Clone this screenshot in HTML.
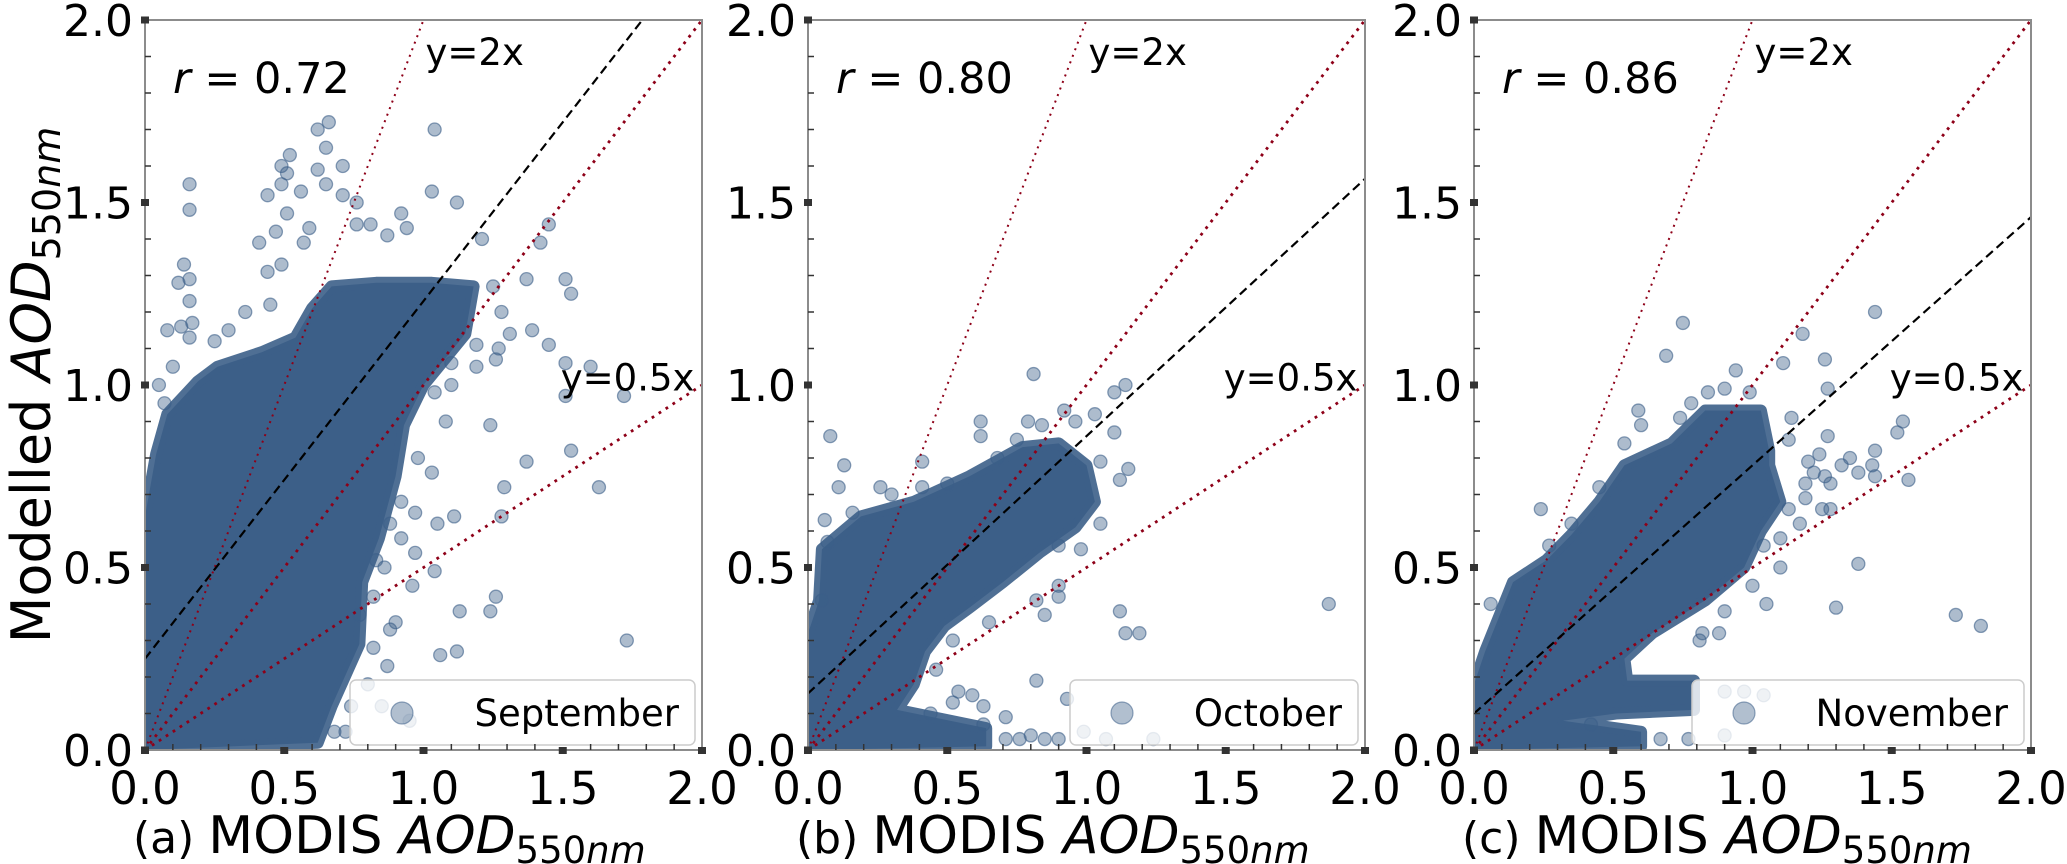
<!DOCTYPE html>
<html><head><meta charset="utf-8"><style>
html,body{margin:0;padding:0;background:#fff}
svg{display:block}
text{font-family:"DejaVu Sans","Liberation Sans",sans-serif;fill:#000}
</style></head><body>
<svg id="chart" width="2067" height="864" viewBox="0 0 2067 864" xmlns="http://www.w3.org/2000/svg"></svg>
<script>
// ---- data (data units) ----
const panelLabels = ["(a)", "(b)", "(c)"];
const monthNames = ["September", "October", "November"];
const rValues = ["0.72", "0.80", "0.86"];
const fitIntercepts = [0.25, 0.155, 0.10];
const fitSlopes = [0.98, 0.705, 0.68];
const tickLabels = ["0.0", "0.5", "1.0", "1.5", "2.0"];
const tickValues = [0, 0.5, 1.0, 1.5, 2.0];
const refSlopes = [1, 2, 0.5];

const denseA = [[0,0],[0.62,0.02],[0.67,0.12],[0.77,0.29],[0.78,0.46],[0.84,0.58],[0.9,0.75],[0.93,0.89],[1.0,1.0],[1.15,1.14],[1.18,1.27],[1.03,1.28],[0.83,1.28],[0.67,1.27],[0.6,1.21],[0.54,1.13],[0.42,1.09],[0.26,1.05],[0.19,1.01],[0.08,0.92],[0.04,0.81],[0,0.64]];
const denseB = [[0.05,0.55],[0.08,0.57],[0.19,0.64],[0.38,0.68],[0.58,0.75],[0.77,0.83],[0.9,0.84],[1.0,0.78],[1.03,0.68],[0.96,0.61],[0.83,0.54],[0.7,0.46],[0.58,0.39],[0.49,0.34],[0.42,0.27],[0.38,0.18],[0.32,0.11],[0.64,0.06],[0.64,0.01],[0,0],[0,0.32],[0.04,0.41]];
const denseC = [[0,0.18],[0.04,0.27],[0.14,0.46],[0.26,0.52],[0.35,0.59],[0.45,0.68],[0.54,0.78],[0.71,0.84],[0.83,0.93],[1.03,0.93],[1.06,0.82],[1.06,0.78],[1.1,0.68],[1.03,0.6],[0.97,0.5],[0.83,0.41],[0.64,0.32],[0.54,0.25],[0.55,0.19],[0.79,0.19],[0.79,0.11],[0.51,0.10],[0.32,0.08],[0.6,0.05],[0.6,0.01],[0,0]];

const pointsA = [[0.62,1.70],[0.66,1.72],[0.65,1.65],[1.04,1.70],[0.16,1.55],[0.16,1.48],[0.52,1.63],[0.49,1.60],[0.71,1.60],[0.62,1.59],[0.51,1.58],[0.49,1.55],[0.65,1.55],[0.44,1.52],[0.56,1.53],[0.71,1.52],[0.76,1.50],[1.03,1.53],[0.92,1.47],[1.12,1.50],[0.51,1.47],[0.59,1.43],[0.81,1.44],[0.76,1.44],[0.47,1.42],[0.41,1.39],[0.57,1.39],[0.87,1.41],[0.94,1.43],[0.14,1.33],[0.12,1.28],[0.16,1.29],[0.16,1.23],[0.08,1.15],[0.13,1.16],[0.17,1.17],[0.16,1.13],[0.44,1.31],[0.49,1.33],[1.45,1.44],[1.42,1.39],[1.21,1.40],[1.37,1.29],[1.51,1.29],[1.53,1.25],[1.25,1.27],[1.28,1.2],[1.39,1.15],[1.31,1.14],[1.45,1.11],[1.27,1.10],[1.19,1.11],[1.26,1.07],[1.51,1.06],[1.6,1.05],[1.19,1.05],[1.10,1.06],[1.51,0.97],[1.72,0.97],[1.24,0.89],[1.04,0.98],[1.53,0.82],[1.37,0.79],[1.29,0.72],[1.63,0.72],[1.28,0.64],[1.11,0.64],[1.03,0.76],[1.26,0.42],[1.24,0.38],[1.13,0.38],[0.9,0.35],[1.06,0.26],[1.12,0.27],[1.73,0.30],[0.96,0.45],[1.04,0.49],[0.97,0.54],[1.05,0.62],[0.97,0.65],[0.82,0.28],[0.87,0.23],[0.77,0.37],[0.85,0.12],[0.95,0.08],[0.72,0.05],[0.82,0.42],[0.86,0.5],[0.92,0.58],[0.88,0.33],[0.8,0.18],[0.74,0.12],[0.68,0.05],[0.92,0.68],[0.98,0.8],[1.08,0.9],[1.1,1.0],[0.88,0.62],[0.83,0.52],[0.3,1.15],[0.36,1.2],[0.25,1.12],[0.45,1.22],[0.05,1.0],[0.1,1.05],[0.07,0.95]];
const pointsB = [[0.81,1.03],[1.10,0.98],[1.14,1.0],[0.08,0.86],[0.62,0.90],[0.62,0.86],[0.79,0.90],[0.84,0.89],[0.92,0.93],[0.96,0.9],[1.03,0.92],[1.10,0.87],[0.75,0.85],[0.13,0.78],[0.41,0.79],[0.11,0.72],[0.26,0.72],[0.41,0.72],[1.15,0.77],[1.12,0.74],[1.05,0.79],[0.06,0.63],[0.16,0.65],[0.07,0.57],[0.05,0.41],[0.9,0.56],[0.9,0.45],[0.82,0.41],[0.9,0.42],[0.85,0.37],[0.65,0.35],[1.12,0.38],[1.14,0.32],[1.19,0.32],[1.87,0.40],[0.82,0.19],[0.52,0.30],[0.46,0.22],[0.54,0.16],[0.59,0.15],[0.52,0.13],[0.63,0.12],[0.44,0.10],[0.71,0.09],[0.63,0.07],[0.71,0.03],[0.8,0.04],[0.9,0.03],[0.99,0.05],[0.93,0.14],[1.07,0.03],[1.24,0.03],[0.76,0.03],[0.85,0.03],[1.05,0.62],[0.98,0.55],[0.3,0.7],[0.5,0.73],[0.68,0.8]];
const pointsC = [[1.44,1.20],[0.75,1.17],[1.18,1.14],[0.69,1.08],[1.11,1.06],[1.26,1.07],[0.94,1.04],[1.27,0.99],[0.99,0.98],[0.90,0.99],[0.84,0.98],[0.78,0.95],[0.59,0.93],[0.6,0.89],[0.74,0.91],[1.14,0.91],[1.54,0.9],[1.52,0.87],[1.27,0.86],[1.13,0.85],[0.54,0.84],[1.24,0.81],[1.44,0.82],[1.35,0.80],[1.20,0.79],[1.43,0.78],[1.32,0.78],[1.38,0.76],[1.44,0.75],[1.56,0.74],[1.26,0.75],[1.22,0.76],[1.28,0.73],[1.19,0.73],[1.19,0.69],[1.25,0.66],[1.28,0.66],[1.13,0.66],[1.17,0.62],[0.24,0.66],[0.27,0.56],[1.38,0.51],[1.04,0.56],[1.1,0.58],[0.06,0.40],[1.05,0.40],[1.30,0.39],[1.73,0.37],[1.82,0.34],[0.88,0.32],[0.81,0.30],[0.82,0.32],[1.04,0.15],[0.9,0.16],[0.97,0.16],[0.42,0.07],[0.67,0.03],[0.77,0.03],[0.9,0.04],[1.1,0.5],[1.0,0.45],[0.9,0.38],[0.35,0.62],[0.45,0.72]];

const denseSets = [denseA, denseB, denseC];
const pointSets = [pointsA, pointsB, pointsC];

// ---- layout ----
const NS = "http://www.w3.org/2000/svg";
const svg = document.getElementById("chart");
const axLefts = [145, 808, 1474];
const axW = 557, axTop = 20, axBottom = 750;
const BLUE = "#3c5f88", RED = "#8e0018";

function mk(tag, attrs, parent) {
  const e = document.createElementNS(NS, tag);
  for (const k in attrs) e.setAttribute(k, attrs[k]);
  (parent || svg).appendChild(e);
  return e;
}

const defs = mk("defs", {});

panelLabels.forEach((lab, p) => {
  const L = axLefts[p];
  const xs = v => L + v / 2 * axW;
  const ys = v => axBottom - v / 2 * (axBottom - axTop);

  const g = mk("g", {});
  
  

  const cp = mk("clipPath", { id: "clip" + p }, defs);
  mk("rect", { x: L, y: axTop, width: axW, height: axBottom - axTop }, cp);
  const plot = mk("g", { "clip-path": "url(#clip" + p + ")" }, g);
  
  

  // dense core
  const dpts = denseSets[p].map(d => xs(d[0]).toFixed(1) + "," + ys(d[1]).toFixed(1)).join(" ");
  const poly = mk("polygon", { points: dpts, fill: BLUE, stroke: BLUE, "stroke-width": 12, "stroke-linejoin": "round", "stroke-opacity": 0.9 }, plot);
  
  

  // individual points
  pointSets[p].forEach(d => {
    const c = mk("circle", { cx: xs(d[0]), cy: ys(d[1]), r: 6.5, fill: BLUE, "fill-opacity": 0.42, stroke: BLUE, "stroke-opacity": 0.6, "stroke-width": 1.3 }, plot);
    
    
  });

  // reference lines y = kx
  refSlopes.forEach(k => {
    const xe = Math.min(2, 2 / k);
    const ln = mk("line", { x1: xs(0), y1: ys(0), x2: xs(xe), y2: ys(k * xe), stroke: RED, "stroke-width": k === 2 ? 2 : 2.8, "stroke-dasharray": k === 2 ? "2 5" : "2.8 5.5" }, plot);
    
    
  });

  // regression line
  const a = fitIntercepts[p], b = fitSlopes[p];
  const xEnd = Math.min(2, (2 - a) / b);
  const fit = mk("line", { x1: xs(0), y1: ys(a), x2: xs(xEnd), y2: ys(a + b * xEnd), stroke: "#000", "stroke-width": 2.2, "stroke-dasharray": "9 5" }, plot);
  
  

  // line labels
  const t2 = mk("text", { x: xs(1.0) + 2, y: ys(1.91) + 12, "font-size": 37 }, g);
  t2.textContent = "y=2x";
  
  
  const t05 = mk("text", { x: xs(1.5) - 2, y: ys(1.02) + 13, "font-size": 37 }, g);
  t05.textContent = "y=0.5x";
  
  

  // r annotation
  const rt = mk("text", { x: L + 28, y: 93, "font-size": 43 }, g);
  
  
  const ri = mk("tspan", { "font-style": "italic" }, rt); ri.textContent = "r";
  const rv = mk("tspan", {}, rt); rv.textContent = " = " + rValues[p];

  // legend
  const legW = [345, 288, 332][p];
  const lx = L + axW - 7 - legW, ly = 680;
  const lg = mk("g", {}, g);
  
  
  mk("rect", { x: lx, y: ly, width: legW, height: 65, rx: 6, fill: "#fff", "fill-opacity": 0.8, stroke: "#ccc", "stroke-width": 1.5 }, lg);
  const lm = mk("circle", { cx: lx + 52, cy: ly + 33, r: 11, fill: BLUE, "fill-opacity": 0.4, stroke: BLUE, "stroke-opacity": 0.55, "stroke-width": 1.2 }, lg);
  
  
  const lt = mk("text", { x: lx + legW - 16, y: ly + 46, "font-size": 37, "text-anchor": "end" }, lg);
  lt.textContent = monthNames[p];
  
  

  // spines
  const sp = mk("rect", { x: L, y: axTop, width: axW, height: axBottom - axTop, fill: "none", stroke: "#8c8c8c", "stroke-width": 2 }, g);
  
  

  // minor ticks
  for (let i = 1; i < 20; i++) {
    if (i % 5 === 0) continue;
    const v = i / 10;
    mk("line", { x1: xs(v), y1: axBottom, x2: xs(v), y2: axBottom - 6, stroke: "#333", "stroke-width": 1.5 }, g);
    mk("line", { x1: L, y1: ys(v), x2: L + 6, y2: ys(v), stroke: "#333", "stroke-width": 1.5 }, g);
  }
  // major ticks + labels
  tickValues.forEach((v, i) => {
    mk("rect", { x: xs(v) - 4, y: axBottom - 3, width: 8, height: 7, fill: "#333" }, g);
    mk("rect", { x: L - 4, y: ys(v) - 3.5, width: 8, height: 7, fill: "#333" }, g);
    const xt = mk("text", { x: xs(v), y: 804, "font-size": 45, "text-anchor": "middle" }, g);
    xt.textContent = tickLabels[i];
    
    
    const yt = mk("text", { x: L - 12, y: ys(v) + 16, "font-size": 44, "text-anchor": "end" }, g);
    yt.textContent = tickLabels[i];
    
    
  });

  // x-axis title
  const xtl = mk("text", { x: L - 12, y: 853, "font-size": 52 }, g);
  
  
  const s1 = mk("tspan", { "font-size": 44 }, xtl); s1.textContent = lab + " ";
  const s1b = mk("tspan", {}, xtl); s1b.textContent = "MODIS ";
  const s2 = mk("tspan", { "font-style": "italic" }, xtl); s2.textContent = "AOD";
  const s3 = mk("tspan", { "font-size": 37, dy: 10 }, xtl); s3.textContent = "550";
  const s4 = mk("tspan", { "font-size": 37, "font-style": "italic" }, xtl); s4.textContent = "nm";
});

// y-axis title
const yt = mk("text", { x: 0, y: 0, "font-size": 54, "text-anchor": "middle", transform: "translate(50,385) rotate(-90)" });


const y1 = mk("tspan", {}, yt); y1.textContent = "Modelled ";
const y2 = mk("tspan", { "font-style": "italic" }, yt); y2.textContent = "AOD";
const y3 = mk("tspan", { "font-size": 38, dy: 10 }, yt); y3.textContent = "550";
const y4 = mk("tspan", { "font-size": 38, "font-style": "italic" }, yt); y4.textContent = "nm";
</script>
</body></html>
